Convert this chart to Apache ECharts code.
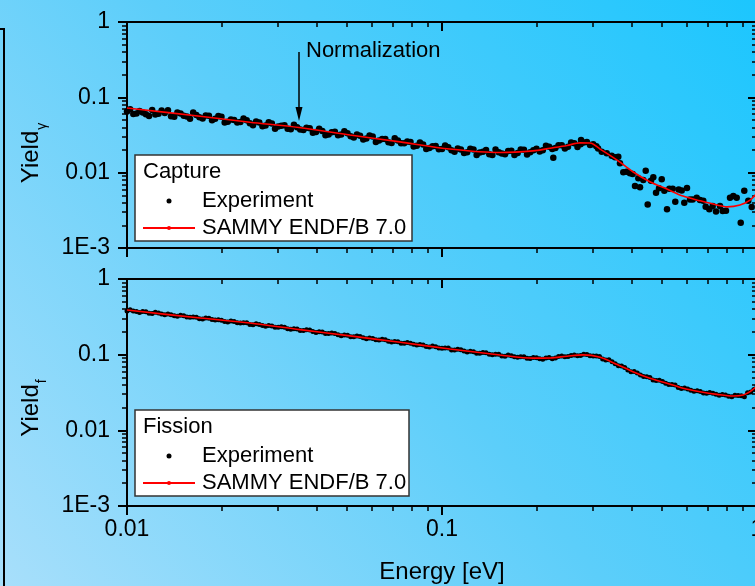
<!DOCTYPE html>
<html><head><meta charset="utf-8">
<script src="https://cdn.jsdelivr.net/npm/echarts@6/dist/echarts.min.js"></script>
<style>html,body{margin:0;padding:0;background:#fff;}#c{width:755px;height:586px;}</style>
</head><body><div id="c"></div>
<script>
// ---------------- data ----------------
const captureExpE = [0.01000,0.01023,0.01047,0.01072,0.01096,0.01122,0.01148,0.01175,0.01202,0.01230,0.01259,0.01288,0.01318,0.01380,0.01445,0.01514,0.01585,0.01660,0.01738,0.01820,0.01905,0.01995,0.02089,0.02188,0.02291,0.02399,0.02512,0.02630,0.02754,0.02884,0.03020,0.03162,0.03311,0.03467,0.03631,0.03802,0.03981,0.04169,0.04365,0.04571,0.04786,0.05012,0.05248,0.05495,0.05754,0.06026,0.06310,0.06607,0.06918,0.07244,0.07586,0.07943,0.08318,0.08710,0.09120,0.09550,0.1000,0.1047,0.1096,0.1148,0.1202,0.1259,0.1318,0.1380,0.1445,0.1514,0.1585,0.1660,0.1738,0.1820,0.1905,0.1995,0.2089,0.2188,0.2256,0.2291,0.2399,0.2512,0.2630,0.2754,0.2763,0.2884,0.3020,0.3090,0.3130,
0.01349,0.01413,0.01479,0.01549,0.01622,0.01698,0.01778,0.01862,0.01950,0.02042,0.02138,0.02239,0.02344,0.02455,0.02570,0.02692,0.02818,0.02951,0.03090,0.03236,0.03388,0.03548,0.03715,0.03890,0.04074,0.04266,0.04467,0.04677,0.04898,0.05129,0.05370,0.05623,0.05888,0.06166,0.06457,0.06761,0.07079,0.07413,0.07762,0.08128,0.08511,0.08913,0.09333,0.09772,0.1023,0.1072,0.1122,0.1175,0.1230,0.1288,0.1349,0.1413,0.1479,0.1549,0.1622,0.1698,0.1778,0.1862,0.1950,0.2042,0.2138,0.2239,0.2344,0.2455,0.2570,0.2692,0.2818,0.2951,
0.3214,0.3334,0.3457,0.3541,0.3628,0.3673,0.3763,0.3857,0.3951,0.4030,0.4099,0.4200,0.4252,0.4355,0.4433,0.4498,0.4608,0.4686,0.4780,0.4886,0.4984,0.5079,0.5180,0.5268,0.5400,0.5503,0.5641,0.5768,0.5877,0.5995,0.6127,0.6250,0.6436,0.6592,0.6753,0.6872,0.7056,0.7234,0.7410,0.7630,0.7782,0.7972,0.8209,0.8410,0.8621,0.8878,0.9113,0.9384,0.9621];
const captureExpY = [0.0650,0.0697,0.0601,0.0608,0.0661,0.0631,0.0597,0.0564,0.0678,0.0590,0.0605,0.0671,0.0621,0.0560,0.0630,0.0568,0.0519,0.0582,0.0525,0.0570,0.0520,0.0551,0.0474,0.0502,0.0469,0.0495,0.0427,0.0462,0.0422,0.0451,0.0411,0.0425,0.0378,0.0400,0.0368,0.0389,0.0346,0.0357,0.0321,0.0348,0.0320,0.0334,0.0294,0.0310,0.0285,0.0301,0.0267,0.0279,0.0248,0.0267,0.0245,0.0256,0.0227,0.0237,0.0212,0.0226,0.0206,0.0217,0.0189,0.0203,0.0186,0.0203,0.0185,0.0200,0.0171,0.0187,0.0175,0.0195,0.0183,0.0202,0.0186,0.0207,0.0198,0.0220,0.0158,0.0212,0.0232,0.0221,0.0245,0.0238,0.0271,0.0256,0.0239,0.0225,0.0210,
0.0673,0.0554,0.0608,0.0555,0.0631,0.0543,0.0576,0.0497,0.0564,0.0463,0.0508,0.0463,0.0525,0.0452,0.0479,0.0412,0.0467,0.0384,0.0420,0.0382,0.0434,0.0373,0.0394,0.0338,0.0383,0.0314,0.0344,0.0313,0.0354,0.0304,0.0321,0.0276,0.0312,0.0256,0.0279,0.0254,0.0287,0.0246,0.0259,0.0222,0.0251,0.0206,0.0224,0.0204,0.0230,0.0198,0.0210,0.0182,0.0207,0.0172,0.0190,0.0176,0.0203,0.0179,0.0194,0.0172,0.0203,0.0174,0.0199,0.0191,0.0228,0.0206,0.0231,0.0210,0.0252,0.0219,0.0252,0.0233,
0.01895,0.01804,0.01677,0.01596,0.01626,0.01329,0.01009,0.01028,0.00979,0.00958,0.00664,0.00840,0.00638,0.00797,0.01060,0.00379,0.00780,0.00866,0.00541,0.00619,0.00815,0.00575,0.00326,0.00611,0.00611,0.00411,0.00600,0.00582,0.00398,0.00625,0.00442,0.00442,0.00464,0.00433,0.00423,0.00352,0.00326,0.00360,0.00306,0.00360,0.00309,0.00312,0.00464,0.00489,0.00464,0.00216,0.00575,0.00423,0.00349];

const captureFitE = [0.01,0.01706,0.02455,0.03516,0.05105,0.07362,0.1059,0.1528,0.1945,0.2203,0.2495,0.2742,0.2951,0.3177,0.3597,0.4036,0.4571,0.5176,0.5821,0.6592,0.7464,0.8035,0.8831,0.9506,1.0];
const captureFitY = [0.0721,0.0561,0.0468,0.0398,0.0316,0.0256,0.0206,0.0185,0.01945,0.02113,0.0230,0.02483,0.02472,0.02056,0.01469,0.01028,0.00757,0.00605,0.00489,0.00424,0.00372,0.00352,0.00372,0.00433,0.00537];

const fissionExpE = [0.01000,0.01047,0.01096,0.01148,0.01202,0.01259,0.01318,0.01380,0.01445,0.01514,0.01585,0.01660,0.01738,0.01820,0.01905,0.01995,0.02089,0.02188,0.02291,0.02399,0.02512,0.02630,0.02754,0.02884,0.03020,0.03162,0.03311,0.03467,0.03631,0.03802,0.03981,0.04169,0.04365,0.04571,0.04786,0.05012,0.05248,0.05495,0.05754,0.06026,0.06310,0.06607,0.06918,0.07244,0.07586,0.07943,0.08318,0.08710,0.09120,0.09550,0.1000,0.1047,0.1096,0.1148,0.1202,0.1259,0.1318,0.1380,0.1445,0.1514,0.1585,0.1660,0.1738,0.1820,0.1905,0.1995,0.2089,0.2188,0.2291,0.2399,0.2512,0.2630,0.2754,0.2884,0.3020,0.3162,0.3311,0.3467,0.3631,0.3802,0.3981,0.4169,0.4365,0.4571,0.4786,0.5012,0.5248,0.5495,0.5754,0.6026,0.6310,0.6607,0.6918,0.7244,0.7586,0.7943,0.8318,0.8710,0.9120,0.9550,1.000,
0.01023,0.01072,0.01122,0.01175,0.01230,0.01288,0.01349,0.01413,0.01479,0.01549,0.01622,0.01698,0.01778,0.01862,0.01950,0.02042,0.02138,0.02239,0.02344,0.02455,0.02570,0.02692,0.02818,0.02951,0.03090,0.03236,0.03388,0.03548,0.03715,0.03890,0.04074,0.04266,0.04467,0.04677,0.04898,0.05129,0.05370,0.05623,0.05888,0.06166,0.06457,0.06761,0.07079,0.07413,0.07762,0.08128,0.08511,0.08913,0.09333,0.09772,0.1023,0.1072,0.1122,0.1175,0.1230,0.1288,0.1349,0.1413,0.1479,0.1549,0.1622,0.1698,0.1778,0.1862,0.1950,0.2042,0.2138,0.2239,0.2344,0.2455,0.2570,0.2692,0.2818,0.2951,0.3090,0.3236,0.3388,0.3548,0.3715,0.3890,0.4074,0.4266,0.4467,0.4677,0.4898,0.5129,0.5370,0.5623,0.5888,0.6166,0.6457,0.6761,0.7079,0.7413,0.7762,0.8128,0.8511,0.8913,0.9333,0.9772];
const fissionExpY = [0.378,0.378,0.361,0.369,0.350,0.356,0.3375,0.338,0.321,0.328,0.312,0.312,0.296,0.302,0.2865,0.285,0.2705,0.275,0.263,0.265,0.249,0.250,0.237,0.240,0.2296,0.231,0.2168,0.2177,0.2083,0.2111,0.197,0.1987,0.190,0.1908,0.1783,0.181,0.173,0.174,0.1629,0.1631,0.1562,0.1574,0.1473,0.1483,0.1417,0.142,0.1338,0.1347,0.1263,0.1277,0.1219,0.1224,0.1149,0.1159,0.1083,0.1092,0.1042,0.1057,0.0995,0.1009,0.0953,0.0966,0.0927,0.0940,0.0889,0.0910,0.0873,0.0916,0.0906,0.0959,0.0944,0.0991,0.0975,0.1002,0.0957,0.0944,0.0851,0.0807,0.0716,0.0678,0.0596,0.0571,0.0514,0.0501,0.0454,0.0441,0.0402,0.0396,0.0358,0.0353,0.0329,0.0327,0.0308,0.0309,0.0290,0.0294,0.0277,0.0288,0.0277,0.0321,0.0385,
0.392,0.372,0.3723,0.353,0.363,0.345,0.344,0.326,0.332,0.315,0.3147,0.298,0.306,0.291,0.290,0.275,0.2795,0.2646,0.2642,0.2502,0.2568,0.2436,0.2425,0.2296,0.2333,0.2208,0.2203,0.2084,0.2137,0.2025,0.2015,0.1905,0.1935,0.1829,0.1823,0.1723,0.1765,0.1672,0.1662,0.1570,0.1593,0.1505,0.1498,0.1415,0.1448,0.1370,0.1361,0.1285,0.1302,0.1229,0.1223,0.1154,0.1180,0.1116,0.1107,0.1046,0.1065,0.1010,0.1012,0.0961,0.0989,0.0942,0.0942,0.0897,0.0920,0.0886,0.0906,0.0886,0.0948,0.0941,0.0978,0.0965,0.1012,0.0969,0.0958,0.0878,0.0854,0.0759,0.0706,0.0625,0.0598,0.0537,0.0509,0.0462,0.0458,0.0420,0.0404,0.0368,0.0364,0.0338,0.0333,0.0312,0.0317,0.0299,0.0298,0.0282,0.0291,0.0287,0.0314,0.0346];

const fissionFitE = [0.01,0.01706,0.02455,0.03540,0.05105,0.07362,0.1059,0.1528,0.1945,0.2203,0.2495,0.2805,0.3177,0.3597,0.4036,0.4571,0.5176,0.5821,0.6592,0.7464,0.8395,0.9036,0.9506,1.0];
const fissionFitY = [0.389,0.305,0.262,0.214,0.177,0.1456,0.1191,0.0991,0.0899,0.0904,0.0955,0.0995,0.0923,0.0741,0.0596,0.0488,0.0419,0.0360,0.0324,0.0299,0.0284,0.0293,0.0324,0.0385];

const xMajorTicks = [0.01, 0.1, 1];
const xTickLabels = ['0.01', '0.1', '1'];
const xMinorTicks = [0.02,0.03,0.04,0.05,0.06,0.07,0.08,0.09,0.2,0.3,0.4,0.5,0.6,0.7,0.8,0.9];
const yMajorTicks = [0.001, 0.01, 0.1, 1];
const yTickLabels = ['1E-3', '0.01', '0.1', '1'];
const yMinorTicks = [0.002,0.003,0.004,0.005,0.006,0.007,0.008,0.009,0.02,0.03,0.04,0.05,0.06,0.07,0.08,0.09,0.2,0.3,0.4,0.5,0.6,0.7,0.8,0.9];

const seriesNames = ['Experiment', 'SAMMY ENDF/B 7.0'];
const panelTitles = ['Capture', 'Fission'];

// ---------------- chart ----------------
const FONT = "'Liberation Sans', Arial, Helvetica, sans-serif";
const BLACK = '#000';
function pairs(xs, ys) { return xs.map((x, i) => [x, ys[i]]); }
function labelFor(ticks, labels) {
  return function (v) {
    for (let i = 0; i < ticks.length; i++) {
      if (Math.abs(Math.log10(v) - Math.log10(ticks[i])) < 1e-6) return labels[i];
    }
    return '';
  };
}
const majorLine = { color: BLACK, width: 2 };
const minorLine = { color: BLACK, width: 1.5 };

function xAxes(gridIndex, withLabels) {
  const base = { type: 'log', logBase: 10, min: 0.01, max: 1, gridIndex: gridIndex, splitLine: { show: false }, minorTick: { show: false } };
  return [
    Object.assign({}, base, {
      position: 'bottom',
      axisLine: { show: true, onZero: false, lineStyle: majorLine },
      axisTick: { show: true, length: 9, customValues: xMajorTicks, lineStyle: majorLine },
      axisLabel: { show: withLabels, customValues: xMajorTicks, formatter: labelFor(xMajorTicks, xTickLabels),
        fontSize: 23, color: BLACK, fontFamily: FONT, margin: 12, showMinLabel: true, showMaxLabel: true, hideOverlap: false },
      name: withLabels ? 'Energy [eV]' : '', nameLocation: 'middle', nameGap: 54,
      nameTextStyle: { fontSize: 24, color: BLACK, fontFamily: FONT }
    }),
    Object.assign({}, base, {
      position: 'bottom', axisLine: { show: false },
      axisTick: { show: true, length: 5, customValues: xMinorTicks, lineStyle: minorLine },
      axisLabel: { show: false }
    }),
    Object.assign({}, base, {
      position: 'top',
      axisLine: { show: true, onZero: false, lineStyle: majorLine },
      axisTick: { show: true, inside: true, length: 9, customValues: xMajorTicks, lineStyle: majorLine },
      axisLabel: { show: false }
    }),
    Object.assign({}, base, {
      position: 'top', axisLine: { show: false },
      axisTick: { show: true, inside: true, length: 5, customValues: xMinorTicks, lineStyle: minorLine },
      axisLabel: { show: false }
    })
  ];
}
function yAxes(gridIndex) {
  const base = { type: 'log', logBase: 10, min: 0.001, max: 1, gridIndex: gridIndex, splitLine: { show: false }, minorTick: { show: false } };
  return [
    Object.assign({}, base, {
      position: 'left',
      axisLine: { show: true, onZero: false, lineStyle: majorLine },
      axisTick: { show: true, length: 9, customValues: yMajorTicks, lineStyle: majorLine },
      axisLabel: { show: true, customValues: yMajorTicks, formatter: labelFor(yMajorTicks, yTickLabels),
        fontSize: 23, color: BLACK, fontFamily: FONT, margin: 17, showMinLabel: true, showMaxLabel: true, hideOverlap: false }
    }),
    Object.assign({}, base, {
      position: 'left', axisLine: { show: false },
      axisTick: { show: true, length: 5, customValues: yMinorTicks, lineStyle: minorLine },
      axisLabel: { show: false }
    }),
    Object.assign({}, base, {
      position: 'right',
      axisLine: { show: true, onZero: false, lineStyle: majorLine },
      axisTick: { show: true, inside: true, length: 9, customValues: yMajorTicks, lineStyle: majorLine },
      axisLabel: { show: false }
    }),
    Object.assign({}, base, {
      position: 'right', axisLine: { show: false },
      axisTick: { show: true, inside: true, length: 5, customValues: yMinorTicks, lineStyle: minorLine },
      axisLabel: { show: false }
    })
  ];
}

function legendFor(top) {
  return {
    data: seriesNames, orient: 'vertical', left: 142, top: top, padding: 0,
    itemWidth: 52, itemHeight: 5, itemGap: 5, selectedMode: false,
    textStyle: { fontSize: 22, color: BLACK, fontFamily: FONT, padding: [0, 0, 0, 2] },
    z: 10
  };
}

function yTitle(x, y, sub) {
  return {
    type: 'text', x: x, y: y, rotation: Math.PI / 2, z: 10,
    style: {
      text: '{a|Yield}{b|' + sub + '}', align: 'center', verticalAlign: 'middle',
      rich: {
        a: { fontSize: 24, fontFamily: FONT, fill: BLACK, lineHeight: 26, verticalAlign: 'top' },
        b: { fontSize: 14, fontFamily: FONT, fill: BLACK, lineHeight: 14, padding: [16, 0, 0, 1], verticalAlign: 'top' }
      }
    }
  };
}

const option = {
  animation: false,
  backgroundColor: {
    type: 'linear', x: 0, y: 1, x2: 1, y2: 0,
    colorStops: [
      { offset: 0, color: '#a8dffb' },
      { offset: 0.5, color: '#5ccefa' },
      { offset: 1, color: '#1cc6fe' }
    ]
  },
  grid: [
    { left: 127, top: 22, width: 630, height: 226, containLabel: false, outerBoundsMode: 'none' },
    { left: 127, top: 279, width: 630, height: 227, containLabel: false, outerBoundsMode: 'none' }
  ],
  xAxis: xAxes(0, false).concat(xAxes(1, true)),
  yAxis: yAxes(0).concat(yAxes(1)),
  legend: [legendFor(190), legendFor(445)],
  series: [
    { name: seriesNames[0], type: 'scatter', xAxisIndex: 0, yAxisIndex: 0, symbol: 'circle', symbolSize: 6.5,
      itemStyle: { color: BLACK, opacity: 1 }, data: pairs(captureExpE, captureExpY), z: 2 },
    { name: seriesNames[1], type: 'line', xAxisIndex: 0, yAxisIndex: 0, symbol: 'circle', symbolSize: 5, showSymbol: false,
      smooth: 0.3, lineStyle: { color: '#ff0000', width: 1.6 }, itemStyle: { color: '#ff0000' },
      data: pairs(captureFitE, captureFitY), z: 3 },
    { name: seriesNames[0], type: 'scatter', xAxisIndex: 4, yAxisIndex: 4, symbol: 'circle', symbolSize: 5,
      itemStyle: { color: BLACK, opacity: 1 }, data: pairs(fissionExpE, fissionExpY), z: 2 },
    { name: seriesNames[1], type: 'line', xAxisIndex: 4, yAxisIndex: 4, symbol: 'circle', symbolSize: 5, showSymbol: false,
      smooth: 0.3, lineStyle: { color: '#ff0000', width: 1.6 }, itemStyle: { color: '#ff0000' },
      data: pairs(fissionFitE, fissionFitY), z: 3 }
  ],
  graphic: [
    { type: 'polyline', z: 5, shape: { points: [[0, 29], [4, 29], [4, 590]] }, style: { stroke: BLACK, lineWidth: 2, fill: null } },
    { type: 'rect', z: 5, shape: { x: 135, y: 155, width: 277, height: 86 }, style: { fill: '#fff', stroke: '#333', lineWidth: 1.5 } },
    { type: 'rect', z: 5, shape: { x: 135, y: 410, width: 274, height: 86 }, style: { fill: '#fff', stroke: '#333', lineWidth: 1.5 } },
    { type: 'text', z: 10, x: 143, y: 172, style: { text: panelTitles[0], fontSize: 22, fontFamily: FONT, fill: BLACK, verticalAlign: 'middle' } },
    { type: 'text', z: 10, x: 143, y: 427, style: { text: panelTitles[1], fontSize: 22, fontFamily: FONT, fill: BLACK, verticalAlign: 'middle' } },
    { type: 'text', z: 10, x: 306, y: 51, style: { text: 'Normalization', fontSize: 22, fontFamily: FONT, fill: BLACK, verticalAlign: 'middle' } },
    { type: 'line', z: 10, shape: { x1: 299, y1: 52, x2: 299, y2: 110 }, style: { stroke: BLACK, lineWidth: 1.5 } },
    { type: 'polygon', z: 10, shape: { points: [[299, 121], [295.5, 107], [302.5, 107]] }, style: { fill: BLACK } },
    yTitle(32, 153, 'γ'),
    yTitle(32, 408, 'f')
  ]
};

const chart = echarts.init(document.getElementById('c'), null, { renderer: 'canvas', width: 755, height: 586 });
chart.setOption(option);
</script>
</body></html>
